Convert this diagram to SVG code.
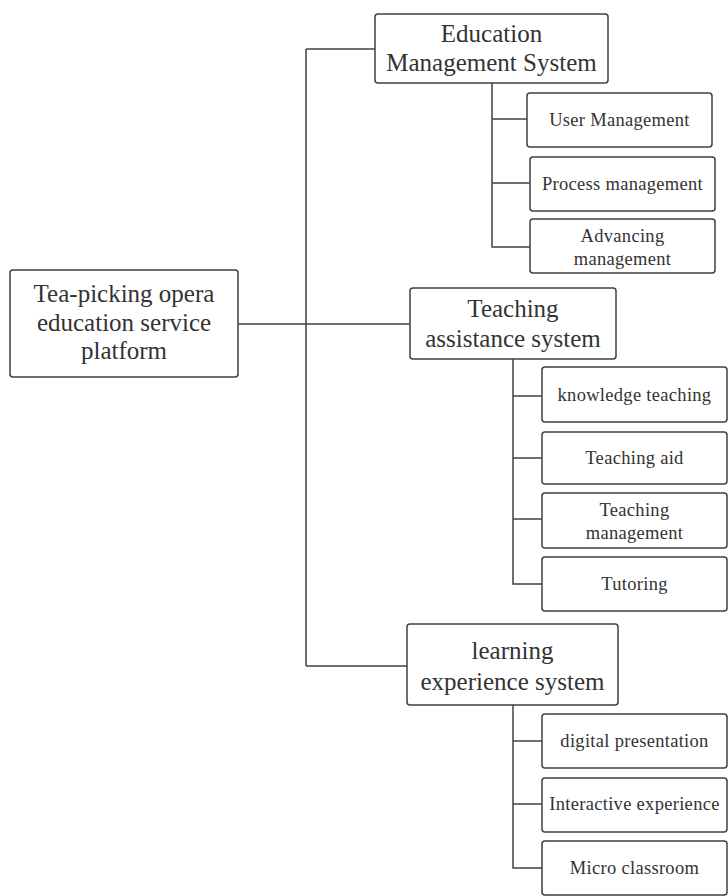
<svg xmlns="http://www.w3.org/2000/svg" width="728" height="896" viewBox="0 0 728 896">
<style>
.box{fill:#fff;stroke:#404040;stroke-width:1.5}
.ln{fill:none;stroke:#404040;stroke-width:1.5}
text{font-family:"Liberation Serif","Times New Roman",serif;fill:#333;text-anchor:middle}
.big{font-size:25px}
.sm{font-size:18.5px;letter-spacing:0.3px}
</style>
<rect width="728" height="896" fill="#fff"/>
<g id="connectors">
<path class="ln" d="M238 324 H410"/>
<path class="ln" d="M306 49 V666"/>
<path class="ln" d="M306 49 H375"/>
<path class="ln" d="M306 666 H407"/>
<path class="ln" d="M492 83 V247 H530"/>
<path class="ln" d="M492 119 H527"/>
<path class="ln" d="M492 183 H530"/>
<path class="ln" d="M513 359 V584 H542"/>
<path class="ln" d="M513 396 H542"/>
<path class="ln" d="M513 458 H542"/>
<path class="ln" d="M513 519 H542"/>
<path class="ln" d="M513 705 V868 H542"/>
<path class="ln" d="M513 741 H542"/>
<path class="ln" d="M513 804 H542"/>
</g>
<g id="root">
<rect class="box" x="10" y="270" width="228" height="107" rx="3"/>
<text class="big" x="124" y="302">Tea-picking opera</text>
<text class="big" x="124" y="331">education service</text>
<text class="big" x="124" y="359">platform</text>
</g>
<g id="ems">
<rect class="box" x="375" y="14" width="233" height="69" rx="3"/>
<text class="big" x="491.5" y="42">Education</text>
<text class="big" x="491.5" y="71">Management System</text>
</g>
<g id="user-management">
<rect class="box" x="527" y="93" width="185" height="54" rx="3"/>
<text class="sm" x="619.5" y="126">User Management</text>
</g>
<g id="process-management">
<rect class="box" x="530" y="157" width="185" height="54" rx="3"/>
<text class="sm" x="622.5" y="190">Process management</text>
</g>
<g id="advancing-management">
<rect class="box" x="530" y="219" width="185" height="54" rx="3"/>
<text class="sm" x="622.5" y="242">Advancing</text>
<text class="sm" x="622.5" y="265">management</text>
</g>
<g id="tas">
<rect class="box" x="410" y="288" width="206" height="71" rx="3"/>
<text class="big" x="513" y="317">Teaching</text>
<text class="big" x="513" y="347">assistance system</text>
</g>
<g id="knowledge-teaching">
<rect class="box" x="542" y="367" width="185" height="55" rx="3"/>
<text class="sm" x="634.5" y="401">knowledge teaching</text>
</g>
<g id="teaching-aid">
<rect class="box" x="542" y="432" width="185" height="52" rx="3"/>
<text class="sm" x="634.5" y="464">Teaching aid</text>
</g>
<g id="teaching-management">
<rect class="box" x="542" y="493" width="185" height="55" rx="3"/>
<text class="sm" x="634.5" y="516">Teaching</text>
<text class="sm" x="634.5" y="539">management</text>
</g>
<g id="tutoring">
<rect class="box" x="542" y="557" width="185" height="54" rx="3"/>
<text class="sm" x="634.5" y="590">Tutoring</text>
</g>
<g id="les">
<rect class="box" x="407" y="624" width="211" height="81" rx="3"/>
<text class="big" x="512.5" y="659">learning</text>
<text class="big" x="512.5" y="690">experience system</text>
</g>
<g id="digital-presentation">
<rect class="box" x="542" y="714" width="185" height="54" rx="3"/>
<text class="sm" x="634.5" y="747">digital presentation</text>
</g>
<g id="interactive-experience">
<rect class="box" x="542" y="778" width="185" height="54" rx="3"/>
<text class="sm" x="634.5" y="810">Interactive experience</text>
</g>
<g id="micro-classroom">
<rect class="box" x="542" y="841" width="185" height="54" rx="3"/>
<text class="sm" x="634.5" y="874">Micro classroom</text>
</g>
</svg>
